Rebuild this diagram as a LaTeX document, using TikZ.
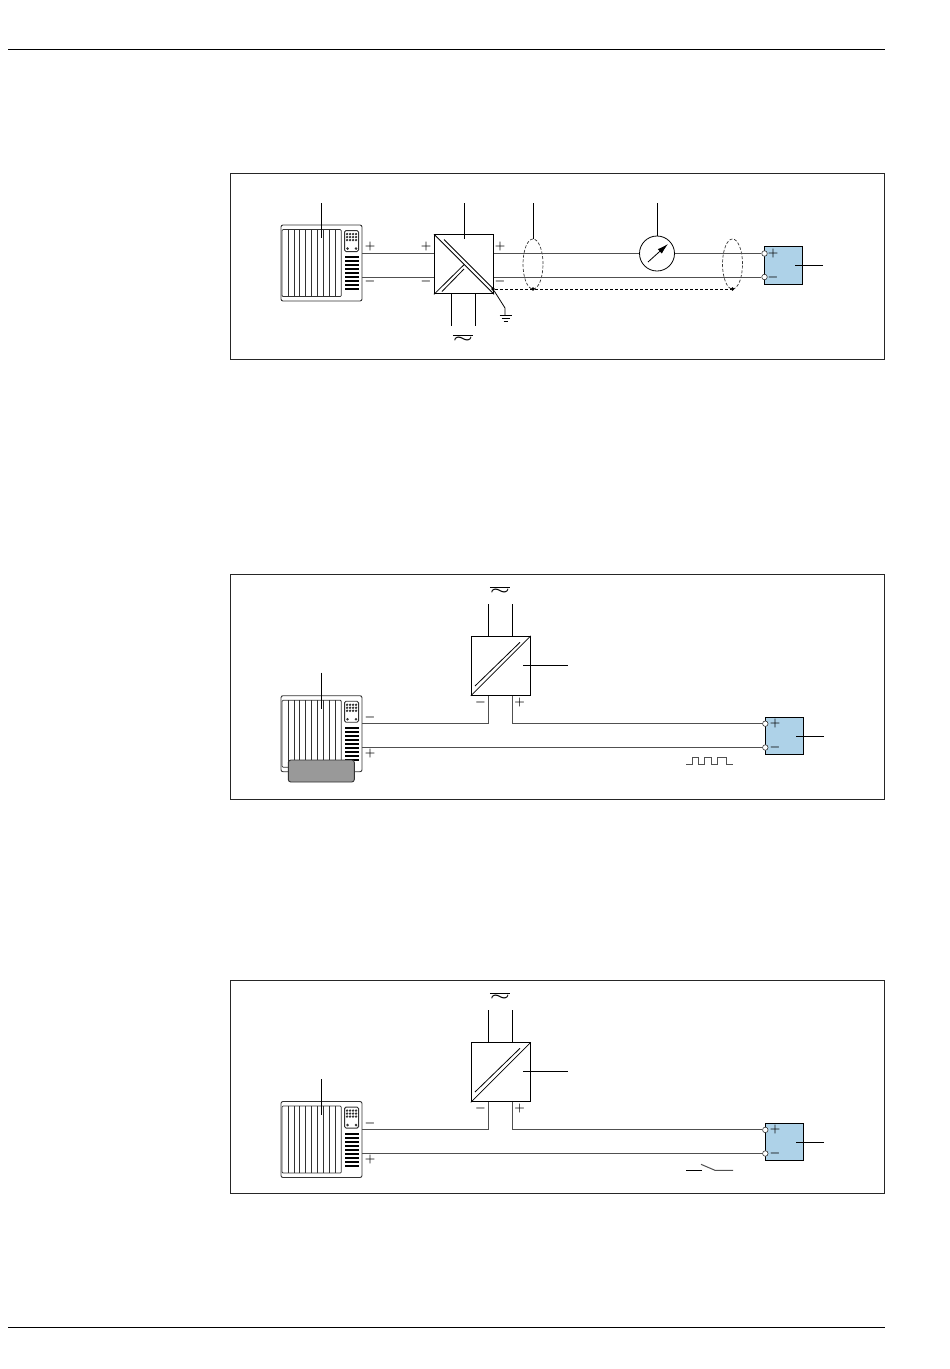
\documentclass[tikz,border=0pt]{standalone}
\usepackage{graphicx}
\usetikzlibrary{arrows.meta,shapes.geometric}
\definecolor{devblue}{RGB}{174,210,232}
\definecolor{wiregray}{RGB}{80,80,80}
\definecolor{plcgray}{RGB}{50,50,50}

% PLC rack: slots, terminal panel, bars; drawn from the node's top left corner
\newcommand{\plcdetail}[1]{
  \begin{scope}[shift={(#1.north west)},plcline]
    \draw [rounded corners=1pt] (1.5,5) rectangle (60.7,72);
    \foreach \i in {1,...,9}
      \draw ({1.5+\i*5.92},5) -- ({1.5+\i*5.92},72);
    \draw [line width=.9pt,rounded corners=1.5pt] (64,6) rectangle (78,27);
    \foreach \r in {9.5,12.5,15.5}
      \foreach \c in {66.5,69.5,72.5,75.5}
        \fill (\c,\r) circle (1.3pt);
    \foreach \c in {67,75.5}
      \fill (\c,24) circle (1.4pt);
    \foreach \r in {0,...,8}
      \fill [black] (64,{31.5+\r*4}) rectangle (78,{33.8+\r*4});
  \end{scope}
}
% mains symbol above or below a converter
\newcommand{\acmark}[3]{
  \node (#1) at (#2,#3) [acnode] {\scalebox{2.2}[1.4]{\boldmath$\sim$}};
  \draw [line width=.9pt] ([yshift=5pt]#1.center -| #1.west) -- ([yshift=5pt]#1.center -| #1.east);
}

\begin{document}
\begin{tikzpicture}
  [
  x=1pt,y=-1pt,
  plcbox/.style={rectangle,draw=plcgray,line width=.9pt,rounded corners=2pt,inner sep=0pt,minimum width=81pt,minimum height=76pt},
  plcline/.style={draw=plcgray,fill=plcgray,line width=.75pt},
  conv/.style={rectangle,draw=black,line width=1pt,inner sep=0pt,minimum size=59pt},
  device/.style={rectangle,draw=black,line width=1pt,fill=devblue,inner sep=0pt,minimum width=38pt,minimum height=37.5pt},
  terminal/.style={circle,draw=plcgray,fill=white,line width=.6pt,inner sep=0pt,minimum size=5.5pt},
  frame/.style={draw=black!85,line width=.8pt},
  leader/.style={draw=black,line width=.9pt},
  wire/.style={draw=wiregray,line width=1pt},
  sign/.style={inner sep=0pt,font=\fontsize{13}{15}\selectfont\boldmath},
  acnode/.style={inner sep=0pt},
  cable/.style={ellipse,draw=plcgray,dashed,dash pattern=on 3pt off 1.8pt,line width=.7pt,inner sep=0pt,minimum width=20pt,minimum height=50pt},
  drop/.style={circle,fill=black,inner sep=0pt,minimum size=3.6pt},
  shield/.style={draw=black,dashed,dash pattern=on 3pt off 2pt,line width=.85pt}
  ]
  \useasboundingbox (0,0) rectangle (950,1369);

  \coordinate (ruletopl) at (8,49.6);
  \coordinate (ruletopr) at (884.5,49.6);
  \coordinate (rulebotl) at (8,1327.6);
  \coordinate (rulebotr) at (884.5,1327.6);
  \draw [line width=.9pt] (ruletopl) -- (ruletopr);
  \draw [line width=.9pt] (rulebotl) -- (rulebotr);

  \node (frameone) at (557.6,266.6) [frame,draw,minimum width=654pt,minimum height=185.6pt] {};
  \node (frametwo) at (557.6,686.8) [frame,draw,minimum width=654pt,minimum height=224.5pt] {};
  \node (framethree) at (557.6,1086.8) [frame,draw,minimum width=654pt,minimum height=212.5pt] {};

  % first loop
  \node (plcone) at (321.5,263) [plcbox] {};
  \plcdetail{plcone}
  \node (convone) at (464,264.3) [conv] {};
  \node (devone) at (783,265.3) [device] {};
  \node (meter) at (657,253.5) [circle,draw,line width=.8pt,inner sep=0pt,minimum size=35pt] {};
  \node (tpone) at (764.5,253.5) [terminal] {};
  \node (tmone) at (764.5,277) [terminal] {};
  \node (cablea) at (533,264) [cable] {};
  \node (cableb) at (732.5,264) [cable] {};
  \node (dropa) at (533,289) [drop] {};
  \node (dropb) at (732.5,289) [drop] {};
  \node (dropc) at (493,289) [drop] {};
  \coordinate (gndbend) at (505,308);
  \coordinate (gndtop) at (505,315);

  \draw [wire] (plcone.east |- tpone) -- (convone.west |- tpone);
  \draw [wire] (plcone.east |- tmone) -- (convone.west |- tmone);
  \draw [wire] (convone.east |- tpone) -- (meter.west);
  \draw [wire] (meter.east) -- (tpone);
  \draw [wire] (convone.east |- tmone) -- (tmone);
  \draw [shield] (dropc) -- (dropb);
  \draw [line width=.8pt] (dropc) -- (gndbend) -- (gndtop);
  \draw [line width=.9pt] (499.5,315) -- (512,315);
  \draw [line width=.9pt] (501.5,318) -- (510,318);
  \draw [line width=.9pt] (503.5,321) -- (508,321);

  \draw [line width=.8pt] (convone.north west) -- (convone.south east);
  \draw [line width=.8pt] (444,239.5) -- (492.5,288);
  \draw [line width=.8pt] (convone.south west) -- (464,264.7);
  \draw [line width=.8pt] (442,291.5) -- (464,269);
  \coordinate (needlea) at (648,262);
  \coordinate (needleb) at (668,244);
  \draw [-{Latex[length=11pt,width=6pt]},line width=.8pt] (needlea) -- (needleb);

  \coordinate (mainsa) at (451.3,326);
  \coordinate (mainsb) at (475.3,326);
  \draw [leader] (convone.south -| mainsa) -- (mainsa);
  \draw [leader] (convone.south -| mainsb) -- (mainsb);
  \acmark{acone}{463}{340}

  \coordinate (leada) at (321.5,203);
  \coordinate (leadaend) at (321.5,238);
  \coordinate (leadb) at (464.5,203);
  \coordinate (leadbend) at (464.5,239);
  \coordinate (leadc) at (533,203);
  \coordinate (leadd) at (657,203);
  \coordinate (leade) at (823,265.3);
  \coordinate (leadeend) at (795,265.3);
  \draw [leader] (leada) -- (leadaend);
  \draw [leader] (leadb) -- (leadbend);
  \draw [leader] (leadc) -- (cablea.north);
  \draw [leader] (leadd) -- (meter.north);
  \draw [leader] (leade) -- (leadeend);

  \node (pa) at (370,246.5) [sign] {$+$};
  \node (ma) at (370,281) [sign] {$-$};
  \node (pb) at (426,246.5) [sign] {$+$};
  \node (mb) at (426,281) [sign] {$-$};
  \node (pc) at (500,246.5) [sign] {$+$};
  \node (mc) at (500,281) [sign] {$-$};
  \node (pd) at (773,253.5) [sign] {$+$};
  \node (md) at (773,277) [sign] {$-$};

  % second loop
  \node (plctwo) at (321.5,733.7) [plcbox] {};
  \plcdetail{plctwo}
  \node (cardtwo) at (321.3,771) [rectangle,draw=plcgray,fill=black!40,line width=.9pt,rounded corners=2.5pt,inner sep=0pt,minimum width=66pt,minimum height=22pt] {};
  \node (convtwo) at (500.8,665.8) [conv] {};
  \node (devtwo) at (784.5,735.8) [device] {};
  \node (tptwo) at (765.3,723.7) [terminal] {};
  \node (tmtwo) at (765.3,747.5) [terminal] {};
  \coordinate (jmtwo) at (488.3,723.7);
  \coordinate (jptwo) at (512.3,723.7);

  \draw [wire] (plctwo.east |- tptwo) -- (jmtwo) -- (convtwo.south -| jmtwo);
  \draw [wire] (convtwo.south -| jptwo) -- (jptwo) -- (tptwo);
  \draw [wire] (plctwo.east |- tmtwo) -- (tmtwo);

  \draw [line width=.8pt] (convtwo.south west) -- (convtwo.north east);
  \draw [line width=.8pt] (475,686) -- (520,642.3);

  \coordinate (mainsc) at (488.3,604);
  \coordinate (mainsd) at (512.3,604);
  \draw [leader] (mainsc) -- (convtwo.north -| mainsc);
  \draw [leader] (mainsd) -- (convtwo.north -| mainsd);
  \acmark{actwo}{500}{592}

  \coordinate (leadf) at (321.5,672.7);
  \coordinate (leadfend) at (321.5,709);
  \coordinate (leadg) at (567.7,665);
  \coordinate (leadgend) at (523,665);
  \coordinate (leadh) at (824,736);
  \coordinate (leadhend) at (796,736);
  \draw [leader] (leadf) -- (leadfend);
  \draw [leader] (leadg) -- (leadgend);
  \draw [leader] (leadh) -- (leadhend);

  \draw [wire] (686,764.7) -- (692,764.7) -- (692,757.3) -- (698.5,757.3) -- (698.5,764.7)
    -- (704.5,764.7) -- (704.5,757.3) -- (711.5,757.3) -- (711.5,764.7) -- (717.5,764.7)
    -- (717.5,757.3) -- (726,757.3) -- (726,764.7) -- (733,764.7);

  \node (pe) at (370,753) [sign] {$+$};
  \node (me) at (370,717) [sign] {$-$};
  \node (pf) at (519.5,702) [sign] {$+$};
  \node (mf) at (480.5,702) [sign] {$-$};
  \node (pg) at (775,723.7) [sign] {$+$};
  \node (mg) at (775,747.5) [sign] {$-$};

  % third loop
  \node (plcthree) at (321.5,1139.5) [plcbox] {};
  \plcdetail{plcthree}
  \node (convthree) at (500.8,1072.3) [conv] {};
  \node (devthree) at (784.5,1141.8) [device] {};
  \node (tpthree) at (765.3,1129.9) [terminal] {};
  \node (tmthree) at (765.3,1153.5) [terminal] {};
  \coordinate (jmthree) at (488.3,1129.9);
  \coordinate (jpthree) at (512.3,1129.9);

  \draw [wire] (plcthree.east |- tpthree) -- (jmthree) -- (convthree.south -| jmthree);
  \draw [wire] (convthree.south -| jpthree) -- (jpthree) -- (tpthree);
  \draw [wire] (plcthree.east |- tmthree) -- (tmthree);

  \draw [line width=.8pt] (convthree.south west) -- (convthree.north east);
  \draw [line width=.8pt] (475,1092) -- (520,1048.3);

  \coordinate (mainse) at (488.3,1010);
  \coordinate (mainsf) at (512.3,1010);
  \draw [leader] (mainse) -- (convthree.north -| mainse);
  \draw [leader] (mainsf) -- (convthree.north -| mainsf);
  \acmark{acthree}{500}{998}

  \coordinate (leadi) at (321.5,1079);
  \coordinate (leadiend) at (321.5,1115);
  \coordinate (leadj) at (567.7,1071);
  \coordinate (leadjend) at (523,1071);
  \coordinate (leadk) at (824,1142.3);
  \coordinate (leadkend) at (796,1142.3);
  \draw [leader] (leadi) -- (leadiend);
  \draw [leader] (leadj) -- (leadjend);
  \draw [leader] (leadk) -- (leadkend);

  \coordinate (swa) at (686,1170.3);
  \coordinate (swb) at (702,1170.3);
  \coordinate (swc) at (701,1164.3);
  \coordinate (swd) at (715,1170.3);
  \coordinate (swe) at (733,1170.3);
  \draw [line width=.9pt] (swa) -- (swb);
  \draw [wire] (swc) -- (swd) -- (swe);

  \node (ph) at (370,1159.7) [sign] {$+$};
  \node (mh) at (370,1123) [sign] {$-$};
  \node (pi) at (519.5,1108) [sign] {$+$};
  \node (mi) at (480.5,1108) [sign] {$-$};
  \node (pj) at (775,1129.9) [sign] {$+$};
  \node (mj) at (775,1153.5) [sign] {$-$};
\end{tikzpicture}
\end{document}
